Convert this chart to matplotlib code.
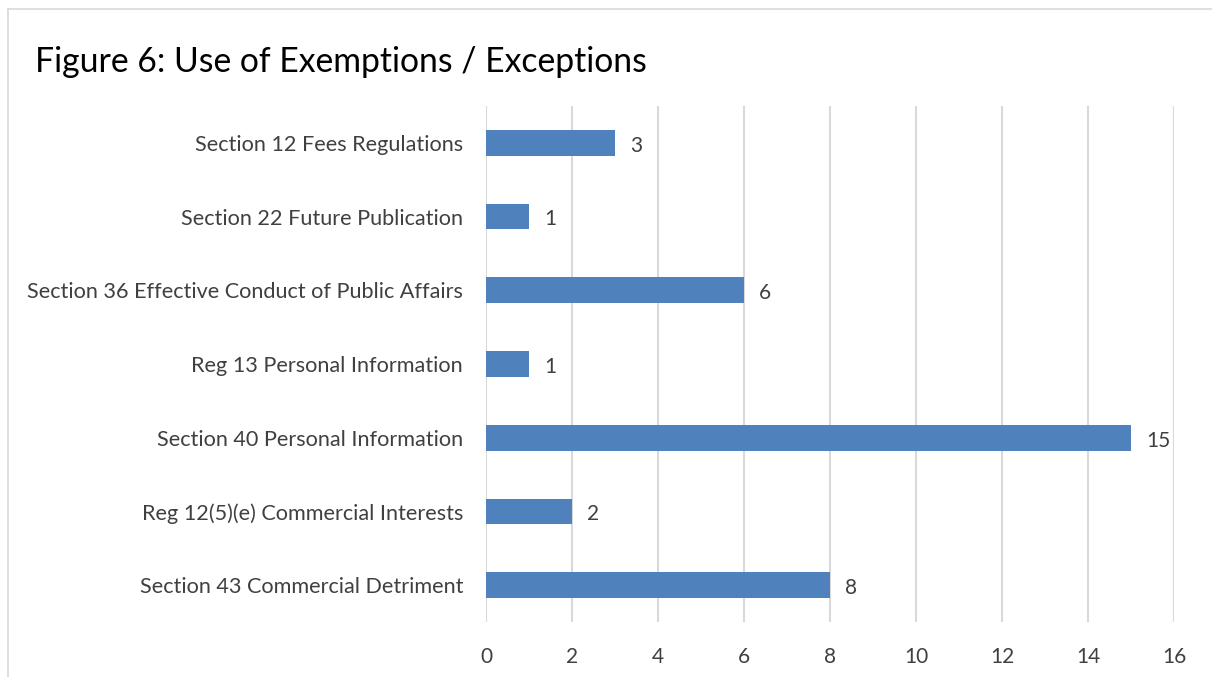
import matplotlib
matplotlib.use("Agg")
import matplotlib.pyplot as plt
from matplotlib.lines import Line2D

categories = [
    "Section 12 Fees Regulations",
    "Section 22 Future Publication",
    "Section 36 Effective Conduct of Public Affairs",
    "Reg 13 Personal Information",
    "Section 40 Personal Information",
    "Reg 12(5)(e) Commercial Interests",
    "Section 43 Commercial Detriment",
]
values = [3, 1, 6, 1, 15, 2, 8]
xticks = [0, 2, 4, 6, 8, 10, 12, 14, 16]
title = "Figure 6: Use of Exemptions / Exceptions"

plt.rcParams['font.family'] = ['Lato', 'DejaVu Sans']

fig = plt.figure(figsize=(12.12, 6.77), dpi=100)
ax = fig.add_axes([0.401, 0.0812, 0.5677, 0.7622])

n = len(categories)
ypos = list(range(n))[::-1]
ax.barh(ypos, values, height=0.35, color="#4F81BD", zorder=3)
for y, v in zip(ypos, values):
    ax.annotate(str(v), xy=(v, y), xytext=(11, -2), textcoords="offset points",
                va="center", ha="left", fontsize=15, color="#404040")

ax.set_xlim(0, 16)
ax.set_ylim(-0.5, n - 0.5)
ax.set_xticks(xticks)
ax.set_xticklabels([str(t) for t in xticks])
ax.set_yticks(ypos)
ax.set_yticklabels(categories)
ax.tick_params(axis="x", length=0, labelsize=15, colors="#404040", pad=18)
ax.tick_params(axis="y", length=0, labelsize=15.6, colors="#404040", pad=16.5)
ax.grid(axis="x", color="#D9D9D9", linewidth=1.5, zorder=0)
for s in ax.spines.values():
    s.set_visible(False)

fig.text(35 / 1212, 1 - 62 / 677, title, fontsize=24.3, color="black", va="center", ha="left")

# outer border
bc = "#D9D9D9"
fig.add_artist(Line2D([8 / 1212, 8 / 1212], [0, 1 - 9 / 677], transform=fig.transFigure, color=bc, lw=1.2))
fig.add_artist(Line2D([8 / 1212, 1.0], [1 - 9 / 677, 1 - 9 / 677], transform=fig.transFigure, color=bc, lw=1.2))

fig.savefig("out.png", dpi=100)
